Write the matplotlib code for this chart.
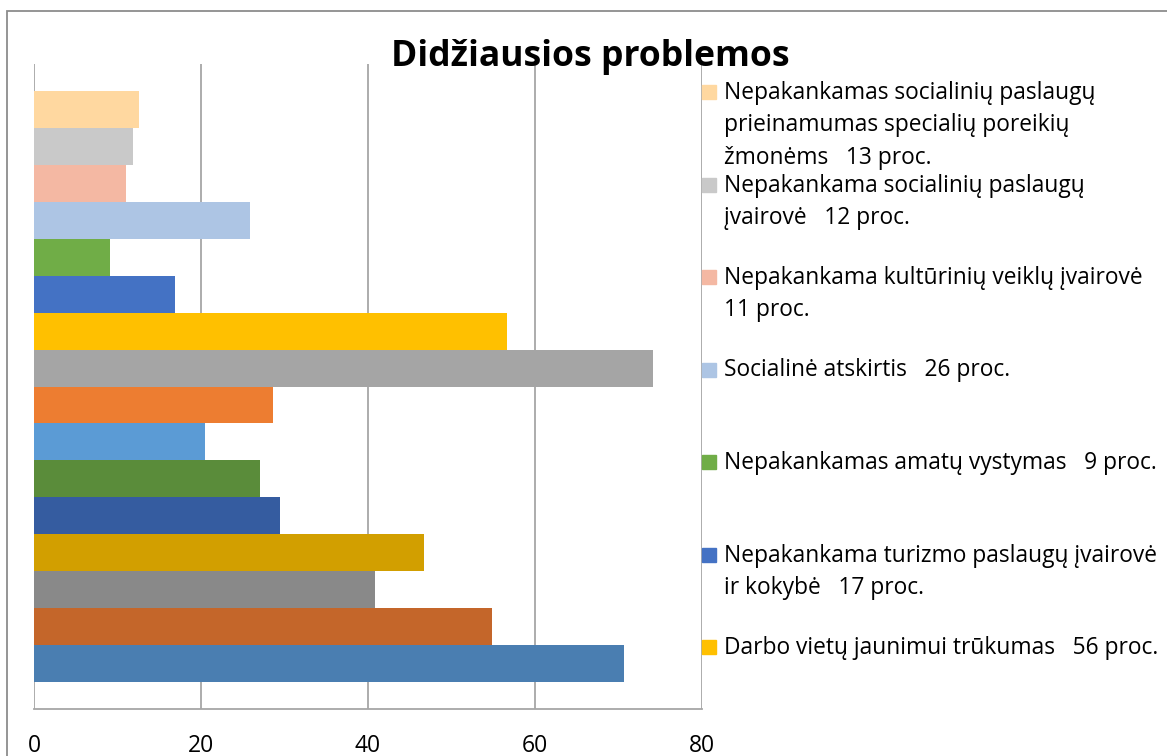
import matplotlib
matplotlib.use("Agg")
import matplotlib.pyplot as plt
from matplotlib.patches import Rectangle

plt.rcParams['font.family'] = ['Open Sans', 'DejaVu Sans']

# bars from bottom to top (Excel series order)
values = [70.6, 54.9, 40.8, 46.7, 29.5, 27.1, 20.5, 28.6, 74.1,
          56.6, 16.9, 9.1, 25.9, 11.0, 11.8, 12.6]
colors = ["#4A7EB1", "#C4662A", "#898989", "#D29F00", "#355CA0", "#5A8C3A",
          "#5B9BD5", "#ED7D31", "#A5A5A5", "#FFC000", "#4472C4", "#70AD47",
          "#ADC5E4", "#F4B8A3", "#C9C9C9", "#FFD8A0"]

# legend entries that are visible (top of legend first), index into bars
legend_idx = [15, 14, 13, 12, 11, 10, 9]
legend_labels = [
    "Nepakankamas socialinių paslaugų\nprieinamumas specialių poreikių\nžmonėms   13 proc.",
    "Nepakankama socialinių paslaugų\nįvairovė   12 proc.",
    "Nepakankama kultūrinių veiklų įvairovė\n11 proc.",
    "Socialinė atskirtis   26 proc.",
    "Nepakankamas amatų vystymas   9 proc.",
    "Nepakankama turizmo paslaugų įvairovė\nir kokybė   17 proc.",
    "Darbo vietų jaunimui trūkumas   56 proc.",
]
xticks = [0, 20, 40, 60, 80]

W, H = 1167, 756
fig = plt.figure(figsize=(W / 100, H / 100), dpi=100)
ax = fig.add_axes([34 / W, (H - 709) / H, (702 - 34) / W, (709 - 64) / H])

ax.barh(range(len(values)), values, height=1.0, color=colors, zorder=3)
ax.set_xlim(0, 80)
ax.set_ylim(-0.5 - 0.73, len(values) - 0.5 + 0.73)
ax.set_xticks(xticks)
ax.set_yticks([])
ax.tick_params(axis='x', length=0, pad=18, labelsize=16.5, colors='black')
ax.grid(True, axis='x', color='#A6A6A6', lw=1.3, zorder=0)
for s in ['top', 'right', 'left']:
    ax.spines[s].set_visible(False)
ax.spines['bottom'].set_color('#A6A6A6')
ax.spines['bottom'].set_linewidth(1.3)

fig.text(590 / W, 1 - 57 / H, "Didžiausios problemos", ha='center', va='center',
         fontsize=25.6, fontweight='bold')

# legend, drawn by hand (Excel spaces entries evenly)
for k, (i, lab) in enumerate(zip(legend_idx, legend_labels)):
    yc = 92 + k * 92.5
    fig.patches.append(Rectangle((702 / W, 1 - (yc + 7) / H), 14 / W, 14 / H,
                                 transform=fig.transFigure, color=colors[i],
                                 zorder=5))
    fig.text(724 / W, 1 - (yc - 11) / H, lab, ha='left', va='top',
             fontsize=16.4, linespacing=1.46)

# outer chart border (cut off at right and bottom)
fig.patches.append(Rectangle((7 / W, -0.1), 2, 1.1 - 11 / H,
                             transform=fig.transFigure, fill=False,
                             edgecolor='#8C8C8C', lw=1.3))

fig.savefig("out.png", dpi=100)
